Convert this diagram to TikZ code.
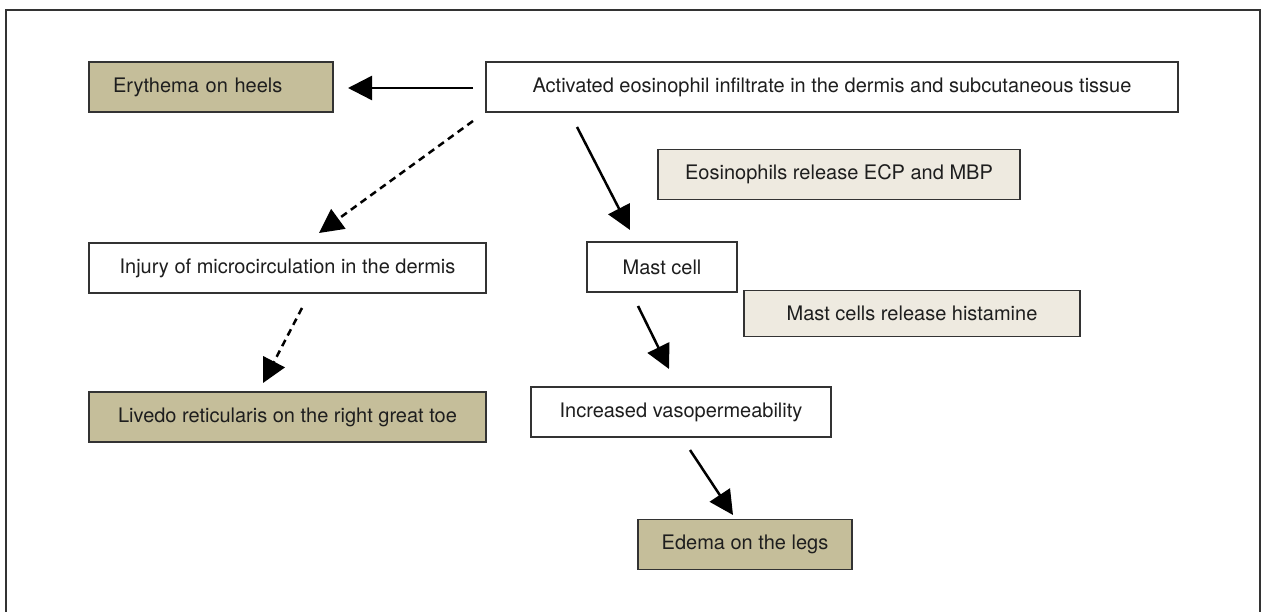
\documentclass[tikz,border=0pt]{standalone}
\usepackage{fontspec}
\setmainfont{TeX Gyre Heros}
\usetikzlibrary{arrows.meta}
\definecolor{darkbeige}{HTML}{C5BE9A}
\definecolor{lightbeige}{HTML}{EEEAE0}
\definecolor{framegray}{HTML}{333333}
\definecolor{txt}{HTML}{1E1E1E}
\begin{document}
\begin{tikzpicture}[x=1pt,y=-1pt,
  box/.style={draw=framegray, line width=1.5pt, minimum height=50pt, inner sep=0pt,
    text=txt, font=\fontsize{20}{24}\selectfont},
  plainbox/.style={box, fill=white},
  darkbox/.style={box, fill=darkbeige},
  lightbox/.style={box, fill=lightbeige},
  arr/.style={line width=2.5pt, -{Triangle[length=24pt,width=24pt]}},
  darr/.style={arr, dash pattern=on 7pt off 5pt}]
\useasboundingbox (0,0) rectangle (1261,612);
\draw[framegray, line width=2pt] (6,620) -- (6,10) -- (1260,10) -- (1260,620);

\node[darkbox, text width=196pt, align=left, inner xsep=24pt] (ery) at (211,87) {Erythema on heels};
\node[plainbox, minimum width=692pt] (act) at (832,87) {Activated eosinophil infiltrate in the dermis and subcutaneous tissue};
\node[lightbox, minimum width=362pt] (eos) at (839,174.5) {Eosinophils release ECP and MBP};
\node[plainbox, minimum width=397pt] (inj) at (287.5,268) {Injury of microcirculation in the dermis};
\node[plainbox, minimum width=150pt] (mast) at (662,267) {Mast cell};
\node[lightbox, minimum width=336pt, minimum height=46pt] (hist) at (912,313.5) {Mast cells release histamine};
\node[darkbox, minimum width=397pt] (liv) at (287.5,417) {Livedo reticularis on the right great toe};
\node[plainbox, minimum width=300pt] (inc) at (681,412) {Increased vasopermeability};
\node[darkbox, minimum width=214pt] (ede) at (745,544.5) {Edema on the legs};

\coordinate (a1s) at (473,88);
\coordinate (a1e) at (348,88);
\coordinate (a2s) at (473,121);
\coordinate (a2e) at (319,233);
\coordinate (a3s) at (577,127);
\coordinate (a3e) at (630,230);
\coordinate (a4s) at (302,308);
\coordinate (a4e) at (263,383);
\coordinate (a5s) at (638,306);
\coordinate (a5e) at (669,369);
\coordinate (a6s) at (690,450);
\coordinate (a6e) at (733,515);

\draw[arr] (a1s) -- (a1e);
\draw[darr] (a2s) -- (a2e);
\draw[arr] (a3s) -- (a3e);
\draw[darr] (a4s) -- (a4e);
\draw[arr] (a5s) -- (a5e);
\draw[arr] (a6s) -- (a6e);
\end{tikzpicture}
\end{document}
